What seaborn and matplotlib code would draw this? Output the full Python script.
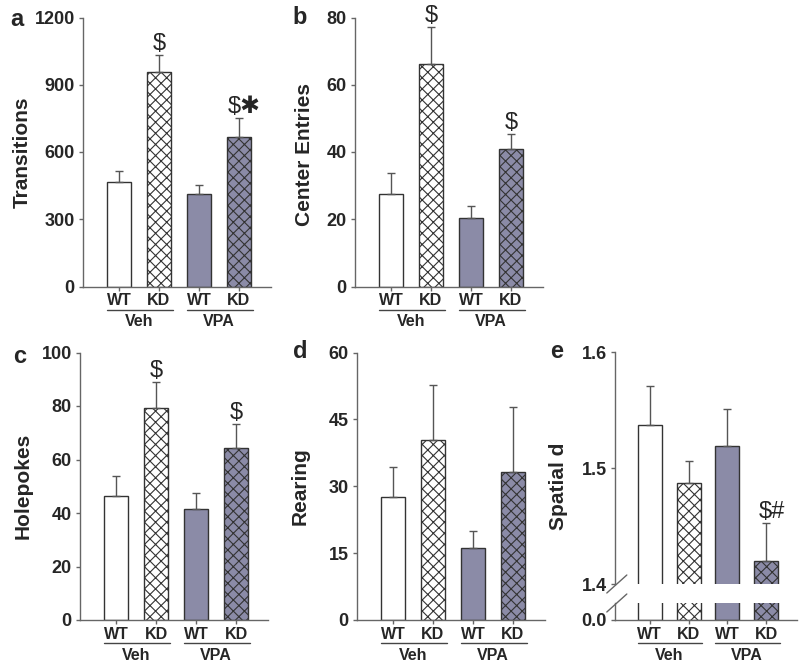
import matplotlib
matplotlib.use("Agg")
import matplotlib.pyplot as plt
import matplotlib.transforms as mtransforms
import pandas as pd
import seaborn as sns

# bar order: Veh WT, Veh KD, VPA WT, VPA KD
conditions = ["Veh WT", "Veh KD", "VPA WT", "VPA KD"]
genotypes = ["WT", "KD", "WT", "KD"]
treatments = ["Veh", "VPA"]

transitions = [468, 956, 413, 666]
transitions_sem = [48, 75, 38, 85]
transitions_marks = ["", "$", "", "$✱"]

center_entries = [27.5, 66.3, 20.3, 41.0]
center_entries_sem = [6.4, 10.8, 3.7, 4.3]
center_entries_marks = ["", "$", "", "$"]

holepokes = [46.5, 79.3, 41.5, 64.3]
holepokes_sem = [7.2, 9.7, 6.0, 9.0]
holepokes_marks = ["", "$", "", "$"]

rearing = [27.5, 40.3, 16.1, 33.2]
rearing_sem = [6.9, 12.5, 3.8, 14.6]
rearing_marks = ["", "", "", ""]

spatial_d = [1.537, 1.487, 1.519, 1.420]
spatial_d_sem = [0.034, 0.019, 0.032, 0.033]
spatial_d_marks = ["", "", "", "$#"]

fills = ["white", "white", "#8b8ba7", "#8b8ba7"]
hatches = ["", "xxx", "", "xxx"]

sns.set_style("ticks")
plt.rcParams["font.family"] = ["Liberation Sans", "DejaVu Sans"]
plt.rcParams["hatch.linewidth"] = 0.8
plt.rcParams["hatch.color"] = "#222222"

AXIS_GRAY = "#666666"
W, H = 800, 667
fig = plt.figure(figsize=(8, 6.67), dpi=100)


def px_axes(left, top, right, bottom):
    """Add axes from pixel box (origin top-left)."""
    return fig.add_axes([left / W, 1 - bottom / H, (right - left) / W, (bottom - top) / H])


def draw_bars(ax, means, sems, with_err=True):
    df = pd.DataFrame({"condition": conditions, "value": means})
    sns.barplot(data=df, x="condition", y="value", hue="condition",
                order=conditions, hue_order=conditions,
                palette=dict(zip(conditions, fills)), saturation=1,
                width=0.62, edgecolor="#333333", linewidth=1,
                errorbar=None, legend=False, ax=ax)
    for patch, h in zip(ax.patches, hatches):
        patch.set_hatch(h)
    if with_err:
        ax.errorbar(range(4), means, yerr=[[0] * 4, sems], fmt="none",
                    ecolor="#555555", elinewidth=1, capsize=3, capthick=1)
    ax.set_xlim(-0.9, 3.8)
    ax.set_xlabel("")
    ax.set_ylabel("")
    for s in ["left", "bottom"]:
        ax.spines[s].set_color(AXIS_GRAY)
        ax.spines[s].set_linewidth(1)
    sns.despine(ax=ax)
    ax.tick_params(axis="y", length=3, width=1, color=AXIS_GRAY, pad=3, labelsize=13)
    ax.tick_params(axis="x", length=3, width=1, color=AXIS_GRAY, pad=2, labelsize=11.5)


def style_yticks(ax, ticks, labels=None):
    ax.set_yticks(ticks)
    ax.set_yticklabels(labels if labels else [str(t) for t in ticks], fontweight="bold")


def group_labels(ax):
    ax.set_xticks(range(4))
    ax.set_xticklabels(genotypes, fontweight="bold")
    line_tr = mtransforms.offset_copy(ax.get_xaxis_transform(), fig=fig, y=-23, units="dots")
    text_tr = mtransforms.offset_copy(ax.get_xaxis_transform(), fig=fig, y=-35, units="dots")
    for i, name in enumerate(treatments):
        x0 = 2 * i
        ax.plot([x0 - 0.31, x0 + 1.35], [0, 0], color="#444444", lw=1,
                transform=line_tr, clip_on=False)
        ax.text(x0 + 0.5, 0, name, transform=text_tr, ha="center", va="center",
                fontsize=11.5, fontweight="bold")


def marks(ax, means, sems, labels):
    for i, (m, s, lab) in enumerate(zip(means, sems, labels)):
        if lab:
            dx = 4 if len(lab) > 1 else 0
            ax.annotate(lab, (i, m + s), xytext=(dx, 0), textcoords="offset points",
                        ha="center", va="bottom", fontsize=17)


panels = [
    ("a", "Transitions", transitions, transitions_sem, transitions_marks,
     [0, 300, 600, 900, 1200], (83, 17.5, 271, 286.5), -0.27, 0.5),
    ("b", "Center Entries", center_entries, center_entries_sem, center_entries_marks,
     [0, 20, 40, 60, 80], (355, 17.5, 543, 286.5), -0.22, 0.49),
    ("c", "Holepokes", holepokes, holepokes_sem, holepokes_marks,
     [0, 20, 40, 60, 80, 100], (80, 352.5, 268, 620), -0.25, 0.5),
    ("d", "Rearing", rearing, rearing_sem, rearing_marks,
     [0, 15, 30, 45, 60], (357, 352.5, 545, 620), -0.25, 0.5),
]

for letter, ylabel, means, sems, mk, ticks, box, lx, ly in panels:
    ax = px_axes(*box)
    draw_bars(ax, means, sems)
    ax.set_ylim(ticks[0], ticks[-1])
    style_yticks(ax, ticks)
    group_labels(ax)
    marks(ax, means, sems, mk)
    ax.set_ylabel(ylabel, fontsize=15, fontweight="bold")
    ax.yaxis.set_label_coords(lx, ly)

# panel e: broken y axis
ax_top = px_axes(615, 352, 797, 584)
draw_bars(ax_top, spatial_d, spatial_d_sem)
ax_top.set_ylim(1.4, 1.6)
style_yticks(ax_top, [1.4, 1.5, 1.6], ["1.4", "1.5", "1.6"])
ax_top.spines["bottom"].set_visible(False)
ax_top.tick_params(axis="x", bottom=False, labelbottom=False)
marks(ax_top, spatial_d, spatial_d_sem, spatial_d_marks)
ax_top.set_ylabel("Spatial d", fontsize=15, fontweight="bold")
ax_top.yaxis.set_label_coords(-0.258, 0.42)

ax_bot = px_axes(615, 603, 797, 620)
draw_bars(ax_bot, spatial_d, spatial_d_sem, with_err=False)
ax_bot.set_ylim(0, 0.05)
style_yticks(ax_bot, [0], ["0.0"])
group_labels(ax_bot)

for ax, y0, dy in [(ax_top, 0.0, 9 / 232), (ax_bot, 1.0, 9 / 17)]:
    ax.plot([-0.045, 0.065], [y0 - dy, y0 + dy], color=AXIS_GRAY, lw=1,
            transform=ax.transAxes, clip_on=False)

# panel letters
for letter, x, y in [("a", 17, 19), ("b", 300, 17), ("c", 20, 357), ("d", 300, 352), ("e", 557, 352)]:
    fig.text(x / W, 1 - y / H, letter, ha="center", va="center", fontsize=17, fontweight="bold")

fig.savefig("out.png", dpi=100, facecolor="white")
